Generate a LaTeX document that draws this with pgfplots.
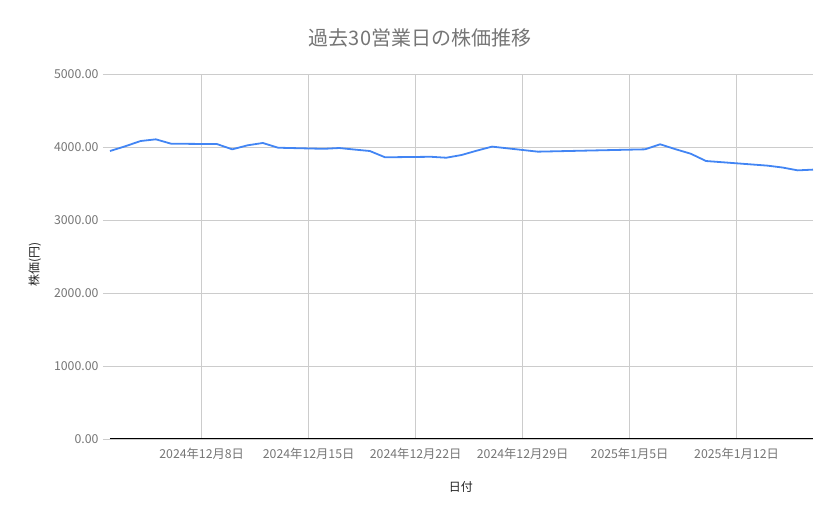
\documentclass[border=0pt]{standalone}
\usepackage{pgfplots}
\pgfplotsset{compat=1.18}
\usepackage{fontspec}
\setmainfont{Noto Sans CJK JP}
\definecolor{lineblue}{HTML}{4285F4}
\definecolor{gridgray}{HTML}{CCCCCC}
\definecolor{ticktext}{HTML}{757575}
\definecolor{labeltext}{HTML}{222222}

% day index: 0 = 2024-12-02
\begin{document}
\begin{tikzpicture}[x=1pt,y=1pt]
  \path[use as bounding box] (0,0) rectangle (839,519);
  \node[text=ticktext, font=\fontsize{20}{22}\selectfont] at (420,481) {過去30営業日の株価推移};
  \begin{axis}[
      at={(110pt,80pt)}, anchor=south west,
      scale only axis,
      width=703pt, height=365pt,
      xmin=0, xmax=46,
      ymin=0, ymax=5000,
      xtick={6,13,20,27,34,41},
      xticklabels={2024年12月8日,2024年12月15日,2024年12月22日,2024年12月29日,2025年1月5日,2025年1月12日},
      ytick={0,1000,...,5000},
      /pgf/number format/fixed,
      /pgf/number format/fixed zerofill,
      /pgf/number format/precision=2,
      /pgf/number format/1000 sep={},
      /pgf/number format/assume math mode=true,
      ticklabel style={text=ticktext, font=\fontsize{12.3}{14}\selectfont},
      xticklabel style={yshift=1pt},
      yticklabel style={xshift=-1pt},
      grid=major,
      major grid style={gridgray, line width=0.8pt},
      separate axis lines,
      x axis line style={black, line width=1pt},
      y axis line style={draw=none},
      axis x line*=bottom,
      axis y line*=left,
      xtick style={draw=none},
      ytick style={gridgray, line width=0.8pt},
      tick align=outside,
      major tick length=7pt,
      xlabel={日付},
      ylabel={株価(円)},
      label style={text=labeltext, font=\fontsize{12}{14}\selectfont},
      xlabel style={at={(rel axis cs:0.499,-0.1315)}, anchor=center},
      ylabel style={at={(rel axis cs:-0.107,0.479)}, anchor=center, rotate=0},
      clip=false,
    ]
    \addplot[lineblue, line width=1.8pt, line join=round] coordinates {
        (0,3945) (1,4010) (2,4082) (3,4105) (4,4045)
        (7,4040) (8,3968) (9,4023) (10,4055) (11,3990)
        (14,3975) (15,3986) (16,3965) (17,3945) (18,3859)
        (21,3866) (22,3853) (23,3890) (24,3950) (25,4005)
        (28,3936)
        (35,3968) (36,4037) (37,3970) (38,3908) (39,3808)
        (43,3745) (44,3719) (45,3680) (46,3690)
      };
  \end{axis}
\end{tikzpicture}
\end{document}
